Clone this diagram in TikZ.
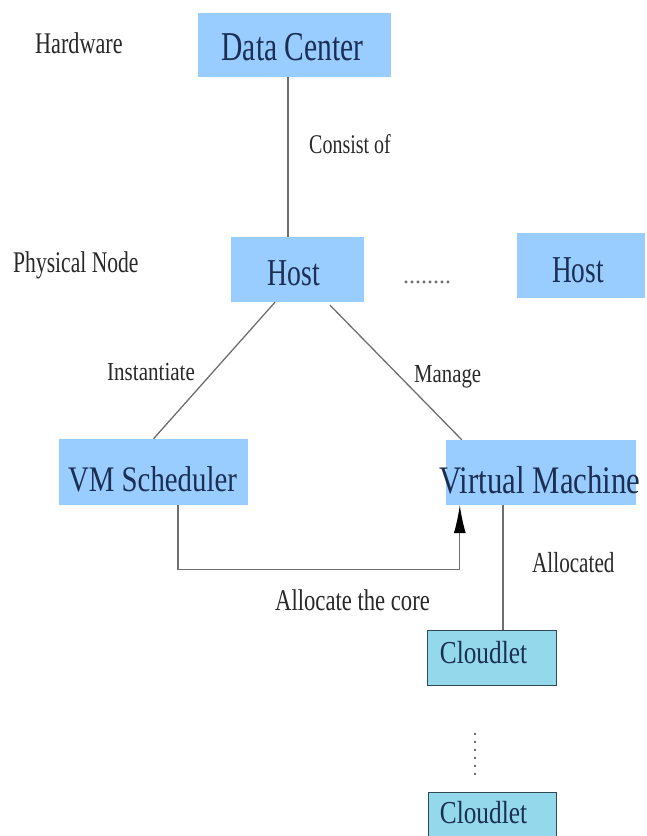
\documentclass[tikz,border=0pt]{standalone}
\usepackage{fontspec}
\usepackage{graphicx}
\setmainfont{Liberation Serif}
\usetikzlibrary{arrows.meta}

\definecolor{boxblue}{RGB}{153,204,255}
\definecolor{cloudcyan}{RGB}{148,216,236}
\definecolor{cloudedge}{RGB}{46,74,85}
\definecolor{boxink}{RGB}{27,47,82}
\definecolor{labelink}{RGB}{40,40,40}
\definecolor{wire}{RGB}{110,110,110}

% condensed text: \cond{x-scale}{font size}{text}
\newcommand\cond[3]{\fontsize{#2}{#2}\selectfont\scalebox{#1}[1]{#3}}

\begin{document}
\begin{tikzpicture}[x=1pt,y=-1pt,
  box/.style={draw=none,fill=boxblue,inner sep=0pt,anchor=center},
  cbox/.style={draw=cloudedge,line width=1pt,fill=cloudcyan,inner sep=0pt,anchor=center},
  boxtxt/.style={text=boxink,inner sep=0pt,anchor=base},
  lbl/.style={text=labelink,inner sep=0pt,anchor=base west},
  wireline/.style={draw=wire,line width=1.3pt}]
\useasboundingbox (0,0) rectangle (647,836);
\clip (0,0) rectangle (647,836);

% boxes
\node[box,minimum width=193pt,minimum height=64pt] (dc) at (294.5,45) {};
\node[box,minimum width=133pt,minimum height=65pt] (host1) at (297.5,269.5) {};
\node[box,minimum width=128pt,minimum height=65pt] (host2) at (581,265.5) {};
\node[box,minimum width=189pt,minimum height=66pt] (vms) at (153.5,472) {};
\node[box,minimum width=190pt,minimum height=65pt] (vm) at (541,472.5) {};
\node[cbox,minimum width=129pt,minimum height=55pt] (cl1) at (491.5,657.5) {};
\node[cbox,minimum width=128pt,minimum height=60pt] (cl2) at (492,822) {};

% box captions
\node[boxtxt] (dctx) at (292.5,60) {\cond{0.72}{41}{Data Center}};
\node[boxtxt] (h1tx) at (294,285) {\cond{0.73}{38}{Host}};
\node[boxtxt] (h2tx) at (578,282) {\cond{0.72}{38}{Host}};
\node[boxtxt] (vmstx) at (152.5,491) {\cond{0.80}{36}{VM Scheduler}};
\node[boxtxt] (vmtx) at (540,493) {\cond{0.79}{39}{Virtual Machine}};
\node[boxtxt] (c1tx) at (483.5,663) {\cond{0.79}{32}{Cloudlet}};
\node[boxtxt] (c2tx) at (483.5,823) {\cond{0.79}{32}{Cloudlet}};

% side labels
\node[lbl] (hw) at (35,53) {\cond{0.74}{30}{Hardware}};
\node[lbl] (pn) at (13,272) {\cond{0.72}{30}{Physical Node}};
\node[lbl] (cons) at (309,153) {\cond{0.74}{27}{Consist of}};
\node[lbl] (inst) at (107,380) {\cond{0.81}{26}{Instantiate}};
\node[lbl] (mng) at (414,382) {\cond{0.80}{26}{Manage}};
\node[lbl] (alcd) at (532,572) {\cond{0.73}{29}{Allocated}};
\node[lbl] (alc) at (275,610) {\cond{0.755}{30}{Allocate the core}};
\node[text=wire,inner sep=0pt,anchor=base west] (more) at (403,283) {\fontsize{24}{24}\selectfont ........};

% connectors
\draw[wireline] ([xshift=-6.5pt]dc.south) -- ([xshift=-6.5pt]dc.south |- host1.north);
\draw[wireline] ([xshift=-22.5pt]host1.south) -- (vms.north);
\draw[wireline] ([xshift=32.5pt,yshift=-3pt]host1.south) -- ([xshift=16pt]vm.north west);
\draw[wireline,-{Latex[length=28pt,width=12pt,color=black]}]
  ([xshift=24.5pt]vms.south) -- ++(0,64) -| ([xshift=14pt]vm.south west);
\draw[wireline] ([xshift=-38pt]vm.south) -- ([xshift=-38pt]vm.south |- cl1.north);
\draw[draw=wire,line width=1.5pt,dash pattern=on 2pt off 6pt,shorten <=47pt,shorten >=12pt]
  ([xshift=-16.5pt]cl1.south) -- ([xshift=-16.5pt]cl1.south |- cl2.north);
\end{tikzpicture}
\end{document}
